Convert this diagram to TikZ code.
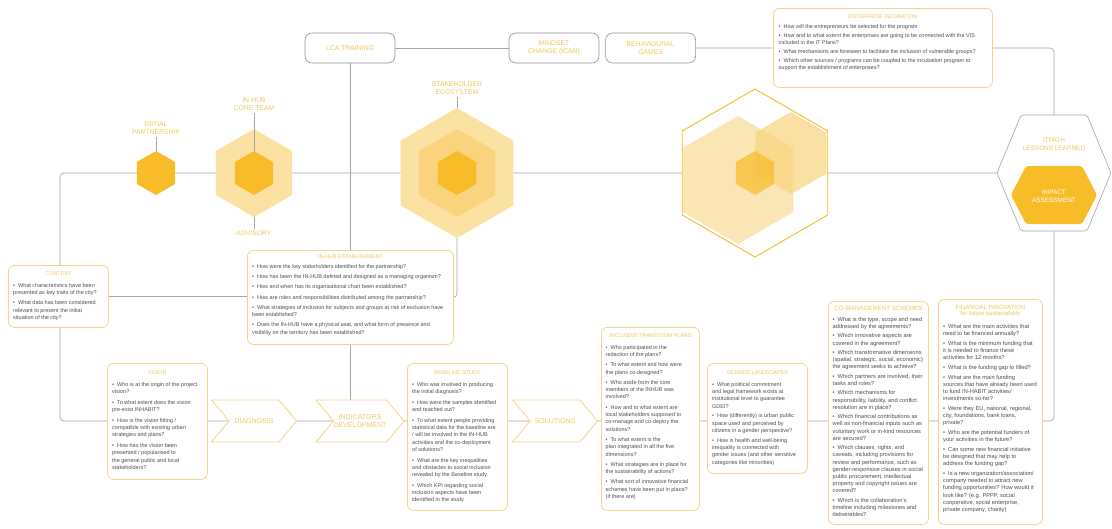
\documentclass[tikz,border=0pt]{standalone}
\usepackage{fontspec}
\setmainfont{Liberation Sans}
\usetikzlibrary{positioning,calc,shapes.geometric,shapes.symbols}

\definecolor{gold}{HTML}{F1C75C}
\definecolor{goldedge}{HTML}{F3D58A}
\definecolor{hexdark}{HTML}{F7BC27}
\definecolor{hexmid}{HTML}{F9D47C}
\definecolor{hexpale}{HTML}{FBE2A3}
\definecolor{wiregray}{HTML}{A5A5A5}
\definecolor{boxgray}{HTML}{8E8E8E}
\definecolor{qgray}{HTML}{4F4F4F}

\newcommand\lblfont{\fontsize{6.8}{8.4}\selectfont}
\newcommand\qhfont{\fontsize{5.4}{6.2}\selectfont}
\newcommand\qsmall{\fontsize{5.5}{7.3}\selectfont}
\newcommand\qwide{\fontsize{5.7}{7.2}\selectfont}
\newcommand\qb{\textbullet\hspace{3pt}}

\pgfdeclarelayer{background}
\pgfsetlayers{background,main}

\begin{document}
\begin{tikzpicture}[x=1pt,y=-1pt,
    wire/.style={draw=wiregray, line width=0.7pt, rounded corners=4pt},
    tick/.style={draw=wiregray, line width=0.7pt},
    hexnode/.style={regular polygon, regular polygon sides=6, shape border rotate=30,
      inner sep=0pt, outer sep=0pt, minimum size=#1},
    hexlbl/.style={text=gold, font=\lblfont, align=center, inner sep=2pt},
    graybox/.style={draw=boxgray, line width=0.6pt, rounded corners=7pt, fill=white,
      minimum width=90pt, minimum height=30pt, text=gold, font=\lblfont, align=center, inner sep=0pt},
    chev/.style={signal, signal from=west, signal to=east, signal pointer angle=100,
      draw=goldedge, line width=0.8pt, fill=white, minimum width=85pt, minimum height=42pt,
      inner sep=0pt, text=gold, font=\fontsize{7}{8.6}\selectfont, align=center},
    qframe/.style={draw=goldedge, line width=0.8pt, rounded corners=6pt, fill=white,
      anchor=north west, inner sep=0pt},
    qhead/.style={text=gold, font=\qhfont, align=center, inner sep=0pt},
    qbody/.style={text=qgray, font=\qsmall, align=left, anchor=north west, inner sep=0pt},
  ]
  \useasboundingbox (0,0) rectangle (1112,528);

  % top row
  \node[graybox] (lca) at (350,48) {LCA TRAINING};
  \node[graybox] (mindset) at (554,48) {MINDSET\\CHANGE (ICAN)};
  \node[graybox, right=6pt of mindset] (behav) {BEHAVIOURAL\\GAMES};

  \node[qframe, minimum width=219pt, minimum height=79pt] (enterp) at (773,8) {};
  \node[qhead] (enterp-t) at ([yshift=-9pt]enterp.north) {ENTERPRISE INCUBATION};
  \node[qbody, font=\fontsize{5.5}{6.8}\selectfont] (enterp-q) at ([xshift=5.5pt,yshift=-16pt]enterp.north west) {%
    \qb How will the entrepreneurs be selected for the program\\[2.5pt]
    \qb How and to what extent the enterprises are going to be connected with the VIS\\
    included in the IT Plans?\\[2.5pt]
    \qb What mechanisms are foreseen to facilitate the inclusion of vulnerable groups?\\[2.5pt]
    \qb Which other sources / programs can be coupled to the incubation program to\\
    support the establishment of enterprises?};

  % hexagons on the main line
  \node[hexnode=44pt, fill=hexdark] (init) at (156,173) {};
  \node[hexlbl, above=14pt of init] (initlbl) {INITIAL\\PARTNERSHIP};

  \node[hexnode=88pt, fill=hexpale] (core) at (254,173) {};
  \node[hexnode=44pt, fill=hexdark] (corein) at (core) {};
  \node[hexlbl, above=16pt of core] (corelbl) {IN-HUB\\CORE TEAM};
  \node[hexlbl, below=12pt of core] (advlbl) {ADVISORY};

  \node[hexnode=130pt, fill=hexpale] (stake) at (457,173) {};
  \node[hexnode=88pt, fill=hexmid] (stakemid) at (stake) {};
  \node[hexnode=44pt, fill=hexdark] (stakein) at (stake) {};
  \node[hexlbl, above=11pt of stake] (stlbl) {STAKEHOLDER\\ECOSYSTEM};

  \draw[tick] (initlbl.south) -- (init.north);
  \draw[tick] (corelbl.south) -- (corein.north);
  \draw[tick] (core.south) -- (advlbl.north);
  \draw[tick] (stlbl.south) -- (stake.north);

  % overlapping hexagons
  \node[hexnode=168pt, fill=white] (gold) at (755,173) {};
  \node[hexnode=128pt, fill=hexpale, fill opacity=0.8] (goldA) at (738,180) {};
  \node[hexnode=82pt, fill=hexmid, fill opacity=0.7] (goldB) at (791,153) {};
  \node[hexnode=44pt, fill=hexdark, fill opacity=0.7] (goldC) at (755,173) {};
  \node[hexnode=168pt, draw=hexdark, line width=0.9pt] (goldrim) at (gold) {};

  % itpath
  \coordinate (itp) at (1054,173);
  \draw[draw=wiregray, line width=0.6pt, fill=white, rounded corners=2pt]
    (997,173) -- (1021,115) -- (1087,115) -- (1111,173) -- (1087,231) -- (1021,231) -- cycle;
  \fill[hexdark, rounded corners=2pt]
    (1011,195) -- (1026,166) -- (1082,166) -- (1097,195) -- (1082,224) -- (1026,224) -- cycle;
  \node[hexlbl, font=\fontsize{6.4}{8}\selectfont] (itplbl) at (1054,144) {ITPATH\\LESSONS LEARNED};
  \node[hexlbl, text=white, font=\fontsize{6.4}{8}\selectfont] (impact) at (1054,196) {IMPACT\\ASSESSMENT};

  % question boxes
  \node[qframe, minimum width=100pt, minimum height=62pt] (context) at (8,265) {};
  \node[qhead] (context-t) at ([yshift=-9pt]context.north) {CONTEXT};
  \node[qbody] (context-q) at ([xshift=5pt,yshift=-18pt]context.north west) {%
    \qb What characteristics have been\\
    presented as key traits of the city?\\[3pt]
    \qb What data has been considered\\
    relevant to present the initial\\
    situation of the city?};

  \node[qframe, minimum width=206pt, minimum height=94pt] (inhub) at (247,250) {};
  \node[qhead] (inhub-t) at ([yshift=-7pt]inhub.north) {IN-HUB ESTABLISHMENT};
  \node[qbody] (inhub-q) at ([xshift=5pt,yshift=-14pt]inhub.north west) {%
    \qb How were the key stakeholders identified for the partnership?\\[3pt]
    \qb How has been the IN-HUB defined and designed as a managing organism?\\[3pt]
    \qb How and when has its organisational chart been established?\\[3pt]
    \qb How are roles and responsibilities distributed among the partnership?\\[3pt]
    \qb What strategies of inclusion for subjects and groups at risk of exclusion have\\
    been established?\\[3pt]
    \qb Does the IN-HUB have a physical seat, and what form of presence and\\
    visibility on the territory has been established?};

  \node[qframe, minimum width=100pt, minimum height=116pt] (vision) at (107,363) {};
  \node[qhead] (vision-t) at ([yshift=-10pt]vision.north) {VISION};
  \node[qbody] (vision-q) at ([xshift=5pt,yshift=-19pt]vision.north west) {%
    \qb Who is at the origin of the project\\
    vision?\\[3.4pt]
    \qb To what extent does the vision\\
    pre-exist INHABIT?\\[3.4pt]
    \qb How is the vision fitting /\\
    compatible with existing urban\\
    strategies and plans?\\[3.4pt]
    \qb How has the vision been\\
    presented / popularised to\\
    the general public and local\\
    stakeholders?};

  \node[qframe, minimum width=100pt, minimum height=147pt] (base) at (407,363) {};
  \node[qhead] (base-t) at ([yshift=-10pt]base.north) {BASELINE STUDY};
  \node[qbody] (base-q) at ([xshift=5pt,yshift=-19pt]base.north west) {%
    \qb Who was involved in producing\\
    the initial diagnosis?\\[3.4pt]
    \qb How were the samples identified\\
    and reached out?\\[3.4pt]
    \qb To what extent people providing\\
    statistical data for the baseline are\\
    / will be involved in the IN-HUB\\
    activities and the co-deployment\\
    of solutions?\\[3.4pt]
    \qb What are the key inequalities\\
    and obstacles to social inclusion\\
    revealed by the Baseline study\\[3.4pt]
    \qb Which KPI regarding social\\
    inclusion aspects have been\\
    identified in the study};

  \node[qframe, minimum width=98pt, minimum height=183pt] (incl) at (601,327) {};
  \node[qhead] (incl-t) at ([yshift=-9pt]incl.north) {INCLUSIVE TRANSITION PLANS};
  \node[qbody] (incl-q) at ([xshift=4.5pt,yshift=-18pt]incl.north west) {%
    \qb Who participated in the\\
    redaction of the plans?\\[3pt]
    \qb To what extent and how were\\
    the plans co-designed?\\[3pt]
    \qb Who aside from the core\\
    members of the INHUB was\\
    involved?\\[3pt]
    \qb How and to what extent are\\
    local stakeholders supposed to\\
    co-manage and co-deploy the\\
    solutions?\\[3pt]
    \qb To what extent is the\\
    plan integrated in all the five\\
    dimensions?\\[3pt]
    \qb What strategies are in place for\\
    the sustainability of actions?\\[3pt]
    \qb What sort of innovative financial\\
    schemes have been put in place?\\
    (if there are)};

  \node[qframe, minimum width=100pt, minimum height=110pt] (gender) at (707,363) {};
  \node[qhead] (gender-t) at ([yshift=-10pt]gender.north) {GENDER LANDSCAPES};
  \node[qbody] (gender-q) at ([xshift=5pt,yshift=-19pt]gender.north west) {%
    \qb What political commitment\\
    and legal framework exists at\\
    institutional level to guarantee\\
    GDEI?\\[2.5pt]
    \qb How (differently) is urban public\\
    space used and perceived by\\
    citizens in a gender perspective?\\[2.5pt]
    \qb How is health and well-being\\
    inequality is connected with\\
    gender issues (and other sensitive\\
    categories like minorities)};

  \node[qframe, minimum width=100pt, minimum height=223pt] (coman) at (828,301) {};
  \node[qhead, font=\fontsize{6.2}{7}\selectfont] (coman-t) at ([yshift=-7pt]coman.north) {CO-MANAGEMENT SCHEMES};
  \node[qbody, font=\qwide] (coman-q) at ([xshift=4.5pt,yshift=-16pt]coman.north west) {%
    \qb What is the type, scope and need\\
    addressed by the agreements?\\[2.2pt]
    \qb Which innovative aspects are\\
    covered in the agreement?\\[2.2pt]
    \qb Which transformative dimensions\\
    (spatial, strategic, social, economic)\\
    the agreement seeks to achieve?\\[2.2pt]
    \qb Which partners are involved, their\\
    tasks and roles?\\[2.2pt]
    \qb Which mechanisms for\\
    responsibility, liability, and conflict\\
    resolution are in place?\\[2.2pt]
    \qb Which financial contributions as\\
    well as non-financial inputs such as\\
    voluntary work or in-kind resources\\
    are secured?\\[2.2pt]
    \qb Which clauses, rights, and\\
    caveats, including provisions for\\
    review and performance, such as\\
    gender-responsive clauses in social\\
    public procurement, intellectual\\
    property and copyright issues are\\
    covered?\\[2.2pt]
    \qb Which is the collaboration's\\
    timeline including milestones and\\
    deliverables?};

  \node[qframe, minimum width=104pt, minimum height=225pt] (fin) at (938,299) {};
  \node[qhead, font=\fontsize{6}{6.8}\selectfont] (fin-t) at ([yshift=-12pt]fin.north) {FINANCIAL INNOVATION\\for future sustainability};
  \node[qbody, font=\qwide] (fin-q) at ([xshift=5pt,yshift=-25pt]fin.north west) {%
    \qb What are the main activities that\\
    need to be financed annually?\\[2.5pt]
    \qb What is the minimum funding that\\
    it is needed to finance these\\
    activities for 12 months?\\[2.5pt]
    \qb What is the funding gap to filled?\\[2.5pt]
    \qb What are the main funding\\
    sources that have already been used\\
    to fund IN-HABIT activities/\\
    investments so-far?\\[2.5pt]
    \qb Were they EU, national, regional,\\
    city, foundations, bank loans,\\
    private?\\[2.5pt]
    \qb Who are the potential funders of\\
    your activities in the future?\\[2.5pt]
    \qb Can some new financial initiative\\
    be designed that may help to\\
    address the funding gap?\\[2.5pt]
    \qb Is a new organization/association/\\
    company needed to attract new\\
    funding opportunities? How would it\\
    look like? (e.g. PPPP, social\\
    cooperative, social enterprise,\\
    private company, charity)};

  % process chevrons
  \node[chev] (diag) at (254,421) {DIAGNOSIS};
  \node[chev] (indic) at (360,421) {INDICATORS\\DEVELOPMENT};
  \node[chev] (sol) at (555,421) {SOLUTIONS};

  % connectors
  \begin{pgfonlayer}{background}
    \coordinate (lcorner) at (60,173);
    \coordinate (bcorner) at (60,421);
    \draw[wire] (itp) -- (lcorner) -- (bcorner) -- (bcorner -| itp) -- (itp);
    \draw[wire] (lca) -- (lca |- indic);
    \draw[wire] (lca) -- (mindset);
    \draw[wire] (behav) -- (enterp);
    \draw[wire] (enterp) -| (itp);
    \draw[wire] (context) -- (context -| inhub);
    \draw[wire] (stake) |- (inhub.east);
  \end{pgfonlayer}
\end{tikzpicture}
\end{document}
